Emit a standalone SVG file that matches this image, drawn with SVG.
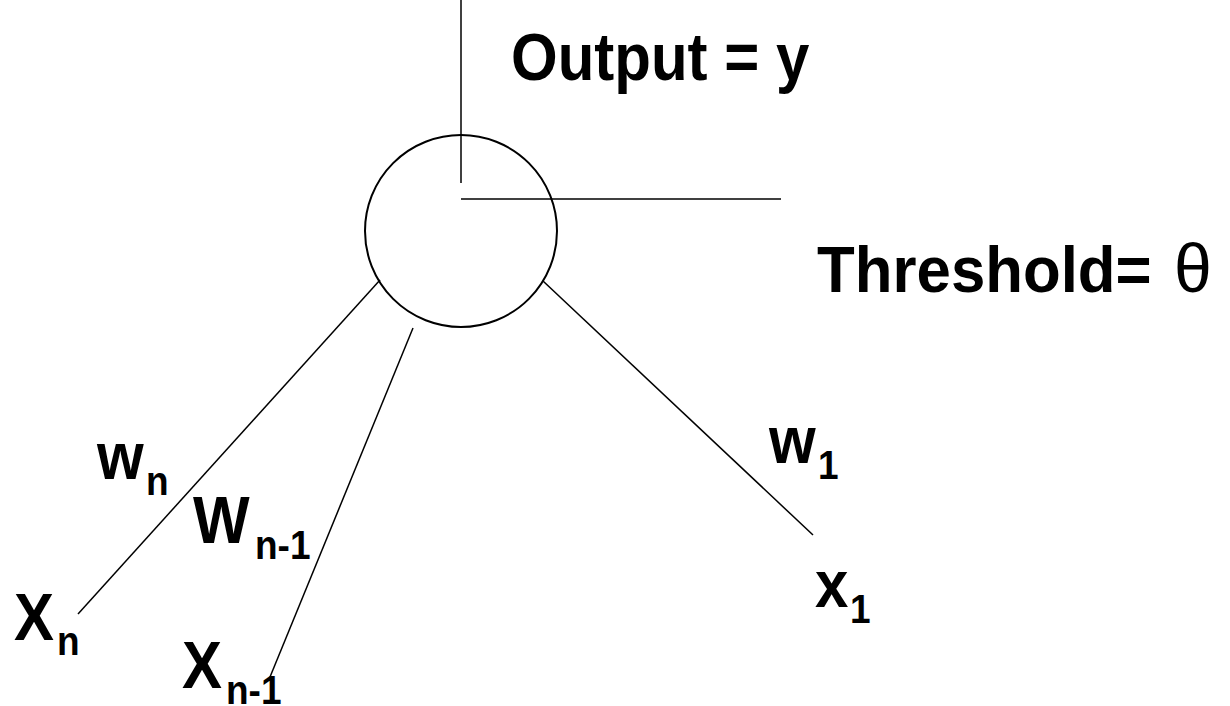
<svg xmlns="http://www.w3.org/2000/svg" width="1230" height="706" viewBox="0 0 1230 706">
<style>
.l{stroke:#000;stroke-width:1.5;fill:none}
.t{font-family:"Liberation Sans",Arial,sans-serif;font-weight:bold;font-size:60px;fill:#000}
.s{font-family:"Liberation Sans",Arial,sans-serif;font-weight:bold;font-size:37px;fill:#000}
.g{font-family:"Liberation Sans",Arial,sans-serif;font-weight:normal;font-size:68px;fill:#000}
</style>
<rect width="1230" height="706" fill="#fff"/>
<g id="neuron">
<circle cx="461" cy="231" r="96" fill="none" stroke="#000" stroke-width="2"/>
</g>
<g id="connectors">
<line class="l" x1="461" y1="0" x2="461" y2="183"/>
<line class="l" x1="461" y1="199" x2="781" y2="199"/>
<line class="l" x1="380" y1="280" x2="78" y2="614"/>
<line class="l" x1="413" y1="328" x2="270" y2="677"/>
<line class="l" x1="543" y1="281" x2="813" y2="535"/>
</g>
<g id="output-label"><text class="t" transform="translate(511 80) scale(1 1.1)">Output = y</text></g>
<g id="threshold-label"><text class="t" transform="translate(817 292) scale(1.03 1.08)">Threshold=</text><text class="g" x="1174" y="292">θ</text></g>
<g id="wn"><text class="t" transform="translate(97 479) scale(1 1.1)">w</text><text class="s" transform="translate(146 495) scale(1 1.12)">n</text></g>
<g id="wn1"><text class="t" transform="translate(193 543) scale(1 1.1)">W</text><text class="s" transform="translate(255 559) scale(1 1.12)">n-1</text></g>
<g id="xn"><text class="t" transform="translate(14 640) scale(1 1.12)">X</text><text class="s" transform="translate(57 655) scale(1 1.12)">n</text></g>
<g id="xn1"><text class="t" transform="translate(182 688) scale(1 1.12)">X</text><text class="s" transform="translate(226 704) scale(1 1.12)">n-1</text></g>
<g id="w1"><text class="t" transform="translate(769 463) scale(1 1.1)">w</text><text class="s" transform="translate(818 479) scale(1 1.12)">1</text></g>
<g id="x1"><text class="t" transform="translate(815 607) scale(1 1.1)">x</text><text class="s" transform="translate(850 623) scale(1 1.12)">1</text></g>
</svg>
